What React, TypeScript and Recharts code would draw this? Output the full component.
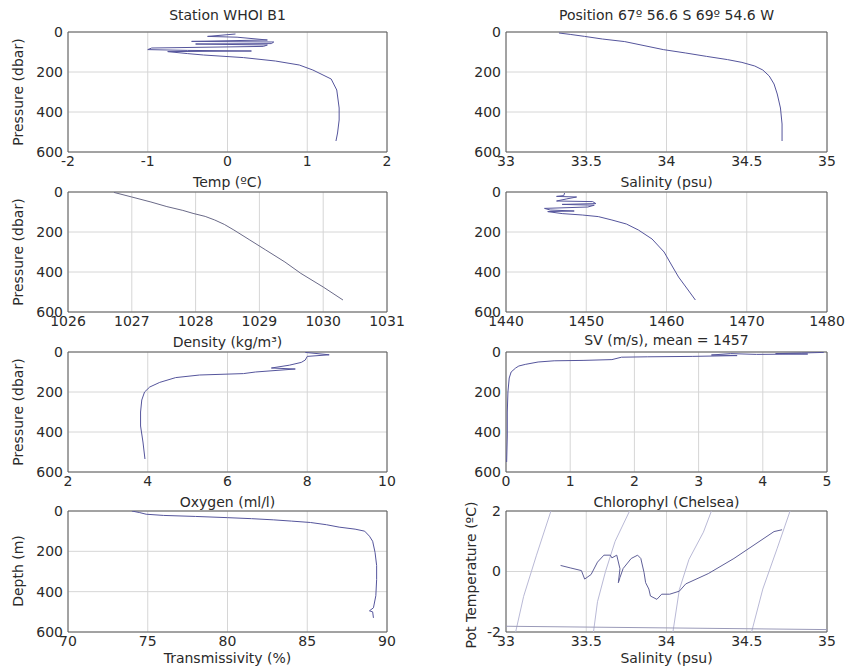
import React from "react";
import {
  LineChart,
  Line,
  XAxis,
  YAxis,
  CartesianGrid,
  ReferenceArea,
} from "recharts";

// ---- tick labels ----
const pressureTicks = [0, 200, 400, 600];
const tempTicks = [-2, -1, 0, 1, 2];
const salinityTicks = [33, 33.5, 34, 34.5, 35];
const densityTicks = [1026, 1027, 1028, 1029, 1030, 1031];
const svTicks = [1440, 1450, 1460, 1470, 1480];
const oxygenTicks = [2, 4, 6, 8, 10];
const chloroTicks = [0, 1, 2, 3, 4, 5];
const transTicks = [70, 75, 80, 85, 90];
const potTempTicks = [-2, 0, 2];

// ---- temperature profile ----
const tempVals = [0.1, -0.25, 0.12, 0.5, -0.45, 0.58, 0.55, -0.4, 0.5, 0.45, -0.95, -1.0, -0.5, 0.3, -0.75, -0.5, -0.3, 0.2, 0.6, 0.9, 1.07, 1.3, 1.37, 1.4, 1.4, 1.38, 1.36];
const tempPres = [10, 22, 26, 40, 47, 50, 58, 60, 65, 72, 80, 88, 92, 95, 98, 108, 115, 128, 145, 165, 190, 235, 290, 380, 440, 505, 545];

// ---- salinity profile ----
const salVals = [33.33, 33.4, 33.49, 33.6, 33.74, 33.86, 33.98, 34.12, 34.25, 34.38, 34.47, 34.55, 34.6, 34.64, 34.67, 34.69, 34.71, 34.72, 34.72];
const salPres = [5, 12, 22, 35, 48, 68, 88, 105, 122, 138, 152, 170, 190, 220, 260, 310, 380, 460, 545];

// ---- density profile ----
const denVals = [1026.72, 1027.0, 1027.3, 1027.55, 1027.8, 1027.96, 1028.15, 1028.3, 1028.45, 1028.6, 1028.85, 1029.1, 1029.4, 1029.65, 1030.0, 1030.31];
const denPres = [2, 25, 50, 73, 92, 107, 122, 140, 162, 190, 240, 290, 350, 407, 475, 540];

// ---- sound velocity profile ----
const svVals = [1447.3, 1447.2, 1446.3, 1448.8, 1447.5, 1446.3, 1450.8, 1451.2, 1447, 1451, 1450.2, 1444.8, 1445.5, 1448.5, 1445.2, 1447, 1449.5, 1451.5, 1453.2, 1455, 1456.5, 1458.2, 1459.7, 1460.7, 1461.5, 1462.6, 1463.6];
const svPres = [5, 18, 22, 25, 35, 45, 48, 58, 62, 66, 75, 82, 90, 95, 98, 108, 115, 123, 140, 160, 190, 235, 300, 370, 425, 485, 540];

// ---- oxygen profile ----
const oxyVals = [7.95, 8.55, 8.0, 7.95, 7.85, 7.55, 7.1, 7.7, 6.7, 6.4, 5.3, 4.7, 4.3, 4.05, 3.92, 3.85, 3.82, 3.82, 3.88, 3.93];
const oxyPres = [2, 14, 22, 40, 52, 66, 80, 85, 100, 108, 115, 128, 152, 175, 200, 240, 300, 370, 450, 535];

// ---- chlorophyll profile ----
const chlVals = [4.95, 4.6, 4.2, 4.7, 3.9, 3.5, 3.2, 3.6, 2.9, 2.2, 1.8, 1.65, 1.2, 0.75, 0.5, 0.3, 0.2, 0.15, 0.08, 0.05, 0.03, 0.02, 0.02, 0.01];
const chlPres = [2, 5, 8, 10, 12, 8, 15, 18, 22, 24, 26, 38, 42, 44, 50, 62, 70, 80, 100, 130, 200, 300, 420, 550];

// ---- transmissivity profile ----
const trVals = [74.0, 74.5, 74.9, 76, 78, 80, 81.5, 82.9, 84, 85.2, 86.2, 87.0, 88.0, 88.6, 88.9, 89.1, 89.25, 89.35, 89.35, 89.3, 89.15, 88.9, 89.1, 89.15];
const trDepth = [0, 8, 16, 22, 27, 33, 38, 44, 50, 57, 68, 80, 90, 100, 125, 150, 205, 270, 340, 420, 480, 495, 500, 530];

// ---- T-S diagram ----
const tsSal = [33.34, 33.4, 33.47, 33.49, 33.53, 33.57, 33.61, 33.65, 33.66, 33.69, 33.71, 33.7, 33.71, 33.73, 33.78, 33.82, 33.84, 33.86, 33.87, 33.89, 33.9, 33.94, 33.97, 34.02, 34.08, 34.12, 34.26, 34.42, 34.67, 34.72];
const tsTemp = [0.2, 0.12, 0.03, -0.25, -0.1, 0.31, 0.54, 0.54, 0.45, 0.54, 0.09, -0.37, -0.2, 0.1, 0.43, 0.54, 0.43, -0.03, -0.37, -0.58, -0.81, -0.92, -0.75, -0.75, -0.65, -0.41, -0.07, 0.43, 1.32, 1.38];
const iso1Sal = [33.06, 33.11, 33.19, 33.28];
const iso1Temp = [-2, -0.82, 0.54, 2];
const iso2Sal = [33.545, 33.57, 33.62, 33.68, 33.77];
const iso2Temp = [-2, -1, 0, 1, 2];
const iso3Sal = [34.04, 34.08, 34.14, 34.23, 34.28];
const iso3Temp = [-2, -0.6, 0.4, 1.3, 2];
const iso4Sal = [34.53, 34.6, 34.69, 34.77];
const iso4Temp = [-2, -0.58, 0.77, 2];
const freezeSal = [33, 35];
const freezeTemp = [-1.81, -1.92];

const zip = (xs: number[], ys: number[]) => xs.map((x, i) => ({ x, y: ys[i] }));

const FONT = "'DejaVu Sans', Arial, sans-serif";
const TEXT = "#2a2a2a";
const PROFILE = "#55559c";
const ISO = "#b9b9d6";

// layout of the 2x4 grid (plot rectangles)
const COLS = [
  { left: 0, width: 425, yw: 68, right: 38 },
  { left: 424, width: 425, yw: 82, right: 22 },
];
const ROWS = [
  { top: 32, h: 120 },
  { top: 192, h: 120 },
  { top: 352, h: 120 },
  { top: 511, h: 121 },
];

type Series = { data: { x: number; y: number }[]; color: string; width?: number };

function Panel({
  col,
  row,
  series,
  xDomain,
  xTicks,
  yDomain,
  yTicks,
  reversed = true,
}: {
  col: number;
  row: number;
  series: Series[];
  xDomain: [number, number];
  xTicks: number[];
  yDomain: [number, number];
  yTicks: number[];
  reversed?: boolean;
}) {
  const c = COLS[col];
  const r = ROWS[row];
  const tick = { fontSize: 14, fill: TEXT, fontFamily: FONT };
  return (
    <div style={{ position: "absolute", left: c.left, top: r.top - 8 }}>
      <LineChart
        width={c.width}
        height={r.h + 32}
        margin={{ top: 8, right: c.right, bottom: 0, left: 0 }}
      >
        <CartesianGrid stroke="#d6d6d6" strokeWidth={1} />
        <XAxis
          dataKey="x"
          type="number"
          domain={xDomain}
          ticks={xTicks}
          allowDataOverflow
          axisLine={false}
          tickLine={false}
          tickSize={0}
          tickMargin={4}
          height={24}
          interval={0}
          tick={tick}
        />
        <YAxis
          type="number"
          domain={yDomain}
          ticks={yTicks}
          reversed={reversed}
          allowDataOverflow
          axisLine={false}
          tickLine={false}
          tickSize={0}
          tickMargin={5}
          width={c.yw}
          interval={0}
          tick={tick}
        />
        <ReferenceArea
          x1={xDomain[0]}
          x2={xDomain[1]}
          y1={yDomain[0]}
          y2={yDomain[1]}
          fill="none"
          stroke="#5a5a5a"
          strokeWidth={1}
          ifOverflow="visible"
        />
        {series.map((s, i) => (
          <Line
            key={i}
            data={s.data}
            dataKey="y"
            type="linear"
            stroke={s.color}
            strokeWidth={s.width ?? 1}
            dot={false}
            activeDot={false}
            isAnimationActive={false}
          />
        ))}
      </LineChart>
    </div>
  );
}

function XLabel({ col, y, text }: { col: number; y: number; text: string }) {
  const c = COLS[col];
  const cx = c.left + c.yw + (c.width - c.yw - c.right) / 2;
  return (
    <div
      style={{
        position: "absolute",
        left: cx - 200,
        width: 400,
        top: y - 9,
        lineHeight: "18px",
        textAlign: "center",
        fontSize: 14,
        fontFamily: FONT,
        color: TEXT,
        whiteSpace: "nowrap",
      }}
    >
      {text}
    </div>
  );
}

function YLabel({ x, y, text }: { x: number; y: number; text: string }) {
  return (
    <div
      style={{
        position: "absolute",
        left: x,
        top: y,
        transform: "translate(-50%, -50%) rotate(-90deg)",
        lineHeight: "18px",
        fontSize: 14,
        fontFamily: FONT,
        color: TEXT,
        whiteSpace: "nowrap",
      }}
    >
      {text}
    </div>
  );
}

export default function App() {
  const p: [number, number] = [0, 600];
  return (
    <div
      style={{
        position: "absolute",
        left: 0,
        top: 0,
        width: 849,
        height: 671,
        background: "#fff",
        overflow: "hidden",
      }}
    >
      <Panel col={0} row={0} series={[{ data: zip(tempVals, tempPres), color: PROFILE }]} xDomain={[-2, 2]} xTicks={tempTicks} yDomain={p} yTicks={pressureTicks} />
      <Panel col={1} row={0} series={[{ data: zip(salVals, salPres), color: PROFILE }]} xDomain={[33, 35]} xTicks={salinityTicks} yDomain={p} yTicks={pressureTicks} />
      <Panel col={0} row={1} series={[{ data: zip(denVals, denPres), color: "#6a6a88" }]} xDomain={[1026, 1031]} xTicks={densityTicks} yDomain={p} yTicks={pressureTicks} />
      <Panel col={1} row={1} series={[{ data: zip(svVals, svPres), color: PROFILE }]} xDomain={[1440, 1480]} xTicks={svTicks} yDomain={p} yTicks={pressureTicks} />
      <Panel col={0} row={2} series={[{ data: zip(oxyVals, oxyPres), color: PROFILE }]} xDomain={[2, 10]} xTicks={oxygenTicks} yDomain={p} yTicks={pressureTicks} />
      <Panel col={1} row={2} series={[{ data: zip(chlVals, chlPres), color: PROFILE }]} xDomain={[0, 5]} xTicks={chloroTicks} yDomain={p} yTicks={pressureTicks} />
      <Panel col={0} row={3} series={[{ data: zip(trVals, trDepth), color: PROFILE }]} xDomain={[70, 90]} xTicks={transTicks} yDomain={p} yTicks={pressureTicks} />
      <Panel
        col={1}
        row={3}
        reversed={false}
        series={[
          { data: zip(iso1Sal, iso1Temp), color: ISO },
          { data: zip(iso2Sal, iso2Temp), color: ISO },
          { data: zip(iso3Sal, iso3Temp), color: ISO },
          { data: zip(iso4Sal, iso4Temp), color: ISO },
          { data: zip(freezeSal, freezeTemp), color: "#9a9ab8" },
          { data: zip(tsSal, tsTemp), color: "#5f5f98" },
        ]}
        xDomain={[33, 35]}
        xTicks={salinityTicks}
        yDomain={[-2, 2]}
        yTicks={potTempTicks}
      />

      <XLabel col={0} y={15} text="Station  WHOI B1" />
      <XLabel col={1} y={15} text="Position 67º 56.6 S 69º 54.6 W" />
      <XLabel col={0} y={182} text="Temp (ºC)" />
      <XLabel col={1} y={182} text="Salinity (psu)" />
      <XLabel col={0} y={342} text="Density (kg/m³)" />
      <XLabel col={1} y={340} text="SV (m/s), mean = 1457" />
      <XLabel col={0} y={502} text="Oxygen (ml/l)" />
      <XLabel col={1} y={502} text="Chlorophyl (Chelsea)" />
      <XLabel col={0} y={658} text="Transmissivity (%)" />
      <XLabel col={1} y={658} text="Salinity (psu)" />

      <YLabel x={18} y={92} text="Pressure (dbar)" />
      <YLabel x={18} y={252} text="Pressure (dbar)" />
      <YLabel x={18} y={412} text="Pressure (dbar)" />
      <YLabel x={18} y={571} text="Depth (m)" />
      <YLabel x={471} y={575} text="Pot Temperature (ºC)" />
    </div>
  );
}
